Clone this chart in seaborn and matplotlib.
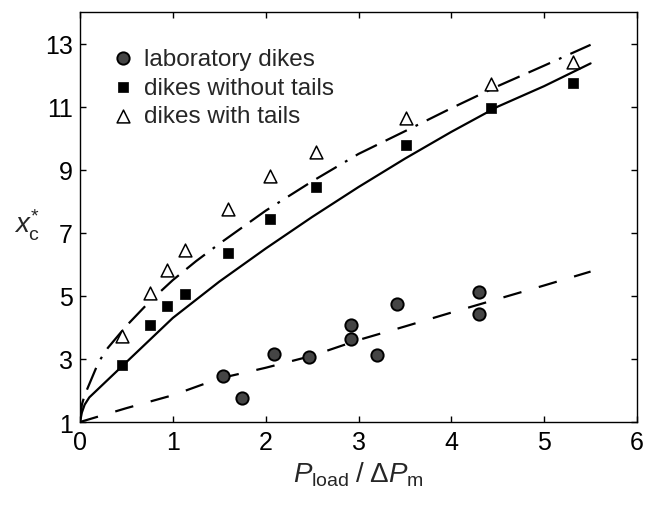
"""
Critical length x_c* of dikes vs normalised load pressure
lab dikes + numerical dikes with / without tails, with fitted curves
"""

import matplotlib
matplotlib.use("Agg")
import matplotlib.pyplot as plt
import seaborn as sns

# -------------------------------------------------------------
# data
# -------------------------------------------------------------
p_num            = [0.45, 0.75, 0.94, 1.13, 1.59, 2.05, 2.54, 3.51, 4.43, 5.31]
xc_with_tails    = [3.72, 5.10, 5.83, 6.45, 7.75, 8.80, 9.55, 10.65, 11.72, 12.42]
xc_without_tails = [2.82, 4.07, 4.69, 5.07, 6.37, 7.45, 8.45, 9.77, 10.95, 11.75]

p_lab  = [1.54, 1.75, 2.09, 2.47, 2.92, 2.92, 3.20, 3.41, 4.30, 4.30]
xc_lab = [2.47, 1.76, 3.17, 3.07, 4.07, 3.63, 3.13, 4.75, 5.12, 4.43]

# fitted curves
fit_nt_p  = [0, 0.02, 0.05, 0.1, 0.25, 0.5, 0.75, 1.0, 1.5, 2.0, 2.5, 3.0, 3.5, 4.0, 4.5, 5.0, 5.5]
fit_nt_xc = [1.0, 1.3, 1.55, 1.78, 2.2, 2.9, 3.6, 4.3, 5.45, 6.5, 7.5, 8.45, 9.35, 10.2, 11.0, 11.65, 12.37]

fit_t_p  = [0, 0.02, 0.05, 0.1, 0.2, 0.3, 0.5, 0.75, 1.0, 1.25, 1.5, 2.0, 2.5, 3.0, 3.5, 4.0, 4.5, 5.0, 5.5]
fit_t_xc = [1.0, 1.55, 1.85, 2.2, 2.9, 3.35, 4.05, 4.82, 5.5, 6.1, 6.65, 7.7, 8.63, 9.5, 10.22, 10.95, 11.65, 12.3, 12.96]

fit_lab_p  = [0, 0.5, 1.0, 1.5, 2.0, 2.5, 3.0, 3.5, 4.0, 4.5, 5.0, 5.5]
fit_lab_xc = [1.0, 1.44, 1.85, 2.38, 2.72, 3.1, 3.6, 4.03, 4.47, 4.9, 5.33, 5.77]

x_ticks = [0, 1, 2, 3, 4, 5, 6]
y_ticks = [1, 3, 5, 7, 9, 11, 13]

# -------------------------------------------------------------
# style
# -------------------------------------------------------------
sns.set_style("ticks")
plt.rcParams["font.family"] = ["Liberation Sans", "DejaVu Sans"]
plt.rcParams["mathtext.fontset"] = "custom"
plt.rcParams["mathtext.rm"] = "Liberation Sans"
plt.rcParams["mathtext.it"] = "Liberation Sans:italic"
plt.rcParams["mathtext.bf"] = "Liberation Sans:bold"
plt.rcParams["lines.scale_dashes"] = False

fig = plt.figure(figsize=(6.52, 5.06), dpi=100)
ax = fig.add_axes([0.1227, 0.164, 0.8543, 0.8103])

# curves
sns.lineplot(x=fit_nt_p, y=fit_nt_xc, ax=ax, sort=False, color="black",
             linewidth=1.6, linestyle="-", legend=False)
sns.lineplot(x=fit_t_p, y=fit_t_xc, ax=ax, sort=False, color="black",
             linewidth=1.6, linestyle=(0, (17, 7, 17, 7, 2, 7)), legend=False)
sns.lineplot(x=fit_lab_p, y=fit_lab_xc, ax=ax, sort=False, color="black",
             linewidth=1.6, linestyle=(0, (13.5, 13)), legend=False)

# data points
sns.scatterplot(x=p_lab, y=xc_lab, ax=ax, marker="o", s=78,
                color="#454545", edgecolor="black", linewidth=1.4,
                label="laboratory dikes", zorder=3)
sns.scatterplot(x=p_num, y=xc_without_tails, ax=ax, marker="s", s=50,
                color="black", edgecolor="black", linewidth=0.5,
                label="dikes without tails", zorder=3)
sns.scatterplot(x=p_num, y=xc_with_tails, ax=ax, marker="^", s=85,
                color="white", edgecolor="black", linewidth=1.1,
                label="dikes with tails", zorder=3)

# axes
ax.set_xlim(0, 6)
ax.set_ylim(1, 14)
ax.set_xticks(x_ticks)
ax.set_yticks(y_ticks)
ax.tick_params(direction="in", length=4, width=1.0, top=True, right=True,
               labelsize=18, colors="black")
ax.tick_params(axis="x", pad=6)
ax.tick_params(axis="y", pad=5)
for sp in ax.spines.values():
    sp.set_visible(True)
    sp.set_linewidth(1.0)
    sp.set_color("black")

ax.set_xlabel(r"$P_{\mathrm{load}}\;/\;\Delta P_{\mathrm{m}}$", fontsize=20, labelpad=4)
ax.set_ylabel(r"$x_{\mathrm{c}}^{*}$", fontsize=20, rotation=0)
ax.yaxis.set_label_coords(-0.095, 0.44)

ax.legend(loc="upper left", bbox_to_anchor=(0.056, 0.913), frameon=False,
          fontsize=17.5, handlelength=1.0, handletextpad=0.35,
          labelspacing=0.28, borderpad=0, borderaxespad=0)

fig.savefig("out.png", dpi=100)
